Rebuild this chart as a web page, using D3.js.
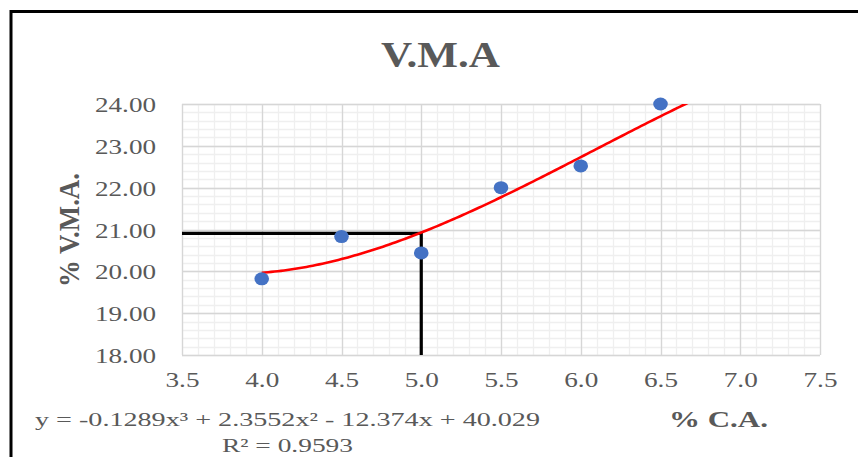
<!DOCTYPE html>
<html>
<head>
<meta charset="utf-8">
<script src="https://cdn.jsdelivr.net/npm/d3@7"></script>
<style>
  html, body { margin: 0; padding: 0; background: #fff; }
  svg { display: block; }
  text { font-family: "Liberation Serif", "Times New Roman", serif; }
</style>
</head>
<body>
<svg id="chart" width="858" height="457"></svg>
<script>
// ---- data ----
const chartTitle = "V.M.A";
const xLabel = "% C.A.";
const yLabel = "% V.M.A.";
const caValues  = [4.0, 4.5, 5.0, 5.5, 6.0, 6.5];
const vmaValues = [19.82, 20.83, 20.44, 22.0, 22.52, 24.0];
const xTickValues = [3.5, 4.0, 4.5, 5.0, 5.5, 6.0, 6.5, 7.0, 7.5];
const yTickValues = [18, 19, 20, 21, 22, 23, 24];
const trendCoefs = [-0.1289, 2.3552, -12.374, 40.029]; // x^3, x^2, x, const
const trendRange = [4.0, 7.0];
const optimumCA = 5.0;
const optimumVMA = 20.93;
const equationText = "y = -0.1289x³ + 2.3552x² - 12.374x + 40.029";
const r2Text = "R² = 0.9593";

// ---- layout ----
const svg = d3.select("#chart");
const plot = { left: 182, right: 820, top: 104, bottom: 355 };
const x = d3.scaleLinear().domain([3.5, 7.5]).range([plot.left, plot.right]);
const y = d3.scaleLinear().domain([18, 24]).range([plot.bottom, plot.top]);

// frame
svg.append("path")
  .attr("d", `M11,460 L11,11.5 L860,11.5`)
  .attr("fill", "none").attr("stroke", "#000").attr("stroke-width", 3);

// minor gridlines
const minorX = d3.range(35, 76).map(v => v / 10);
const minorY = d3.range(90, 121).map(v => v / 5);
const grid = svg.append("g");
grid.selectAll("line.mx").data(minorX).join("line")
  .attr("x1", d => Math.round(x(d)) + 0.5).attr("x2", d => Math.round(x(d)) + 0.5)
  .attr("y1", plot.top).attr("y2", plot.bottom)
  .attr("stroke", "#efefef").attr("stroke-width", 1.3);
grid.selectAll("line.my").data(minorY).join("line")
  .attr("y1", d => Math.round(y(d)) + 0.5).attr("y2", d => Math.round(y(d)) + 0.5)
  .attr("x1", plot.left).attr("x2", plot.right)
  .attr("stroke", "#efefef").attr("stroke-width", 1.3);
// major gridlines
grid.selectAll("line.Mx").data(xTickValues).join("line")
  .attr("x1", d => Math.round(x(d)) + 0.5).attr("x2", d => Math.round(x(d)) + 0.5)
  .attr("y1", plot.top).attr("y2", plot.bottom)
  .attr("stroke", "#d6d6d6").attr("stroke-width", 1.3);
grid.selectAll("line.My").data(yTickValues).join("line")
  .attr("y1", d => Math.round(y(d)) + 0.5).attr("y2", d => Math.round(y(d)) + 0.5)
  .attr("x1", plot.left).attr("x2", plot.right)
  .attr("stroke", "#d6d6d6").attr("stroke-width", 1.3);

// axes (labels only)
const yAxis = d3.axisLeft(y).tickValues(yTickValues).tickFormat(d3.format(".2f")).tickSize(0).tickPadding(26);
const gy = svg.append("g").attr("transform", `translate(${plot.left},0)`).call(yAxis);
gy.select(".domain").remove();
gy.selectAll("text")
  .attr("font-size", 21).attr("fill", "#595959")
  .attr("font-family", "Liberation Serif, serif")
  .attr("dy", "0.36em")
  .attr("textLength", 61).attr("lengthAdjust", "spacingAndGlyphs");

const xAxis = d3.axisBottom(x).tickValues(xTickValues).tickFormat(d3.format(".1f")).tickSize(0).tickPadding(17);
const gx = svg.append("g").attr("transform", `translate(0,${plot.bottom})`).call(xAxis);
gx.select(".domain").remove();
gx.selectAll("text")
  .attr("font-size", 21).attr("fill", "#595959")
  .attr("font-family", "Liberation Serif, serif")
  .attr("dy", "0.71em")
  .attr("textLength", 34).attr("lengthAdjust", "spacingAndGlyphs");

// reading lines
svg.append("path")
  .attr("d", `M${x(3.5)},${y(optimumVMA) + 1} L${x(optimumCA)},${y(optimumVMA) + 1} L${x(optimumCA)},${y(18)}`)
  .attr("fill", "none").attr("stroke", "#000").attr("stroke-width", 3.2);

// trendline
svg.append("clipPath").attr("id", "clip").append("rect")
  .attr("x", plot.left).attr("y", plot.top)
  .attr("width", plot.right - plot.left).attr("height", plot.bottom - plot.top);
const poly = v => trendCoefs[0] * v ** 3 + trendCoefs[1] * v ** 2 + trendCoefs[2] * v + trendCoefs[3];
const trendXs = d3.range(trendRange[0], trendRange[1] + 1e-9, 0.02);
svg.append("path")
  .datum(trendXs)
  .attr("clip-path", "url(#clip)")
  .attr("d", d3.line().x(d => x(d)).y(d => y(poly(d))))
  .attr("fill", "none").attr("stroke", "#ff0000").attr("stroke-width", 2.6);

// markers
svg.append("g").selectAll("ellipse").data(caValues).join("ellipse")
  .attr("cx", d => x(d)).attr("cy", (d, i) => y(vmaValues[i]))
  .attr("rx", 7.3).attr("ry", 6.5)
  .attr("fill", "#4472C4");

// title
svg.append("text")
  .attr("x", 440.5).attr("y", 67)
  .attr("text-anchor", "middle")
  .attr("font-size", 36).attr("font-weight", "bold").attr("fill", "#595959")
  .attr("textLength", 119).attr("lengthAdjust", "spacingAndGlyphs")
  .text(chartTitle);

// y label
svg.append("text")
  .attr("transform", "translate(79,230) rotate(-90)")
  .attr("text-anchor", "middle")
  .attr("font-size", 29).attr("font-weight", "bold").attr("fill", "#595959")
  .attr("textLength", 114).attr("lengthAdjust", "spacingAndGlyphs")
  .text(yLabel);

// x label
svg.append("text")
  .attr("x", 669).attr("y", 427)
  .attr("font-size", 23).attr("font-weight", "bold").attr("fill", "#595959")
  .attr("textLength", 99).attr("lengthAdjust", "spacingAndGlyphs")
  .text(xLabel);

// equation
svg.append("text")
  .attr("x", 35).attr("y", 426)
  .attr("font-size", 19).attr("fill", "#595959")
  .attr("textLength", 505).attr("lengthAdjust", "spacingAndGlyphs")
  .text(equationText);
svg.append("text")
  .attr("x", 222).attr("y", 452)
  .attr("font-size", 19).attr("fill", "#595959")
  .attr("textLength", 131).attr("lengthAdjust", "spacingAndGlyphs")
  .text(r2Text);
</script>
</body>
</html>
